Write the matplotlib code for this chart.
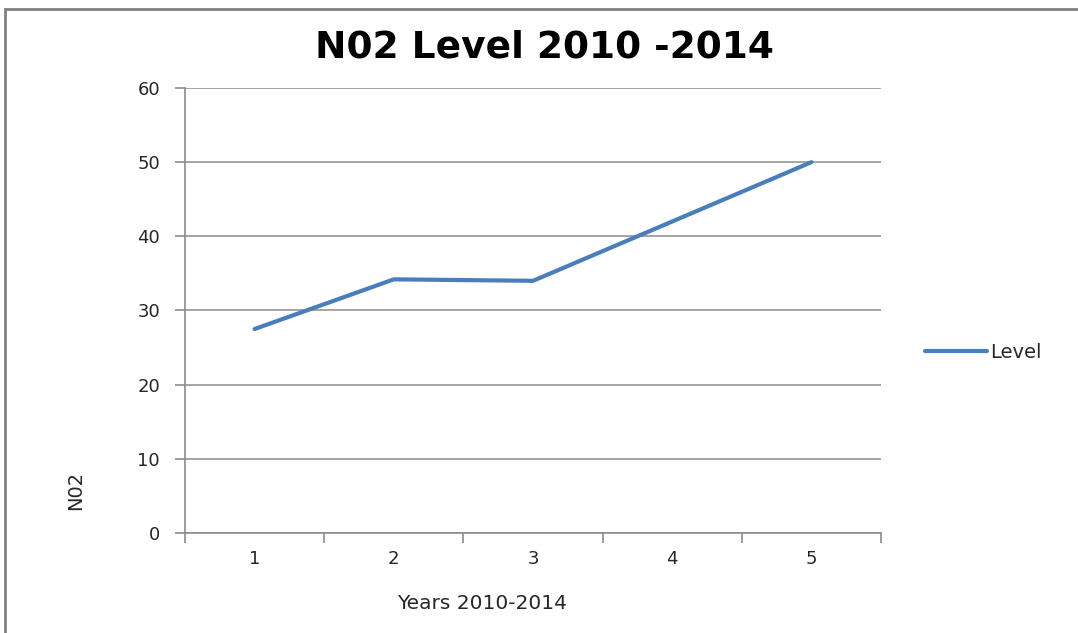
import matplotlib.pyplot as plt
from matplotlib.patches import Rectangle

# data
years = ['1', '2', '3', '4', '5']
level = [27.5, 34.2, 34.0, 42.0, 50.0]
y_ticks = [0, 10, 20, 30, 40, 50, 60]

grey = '#8c8c8c'
blue = '#4a7ebb'
txt = '#262626'

fig = plt.figure(figsize=(10.78, 6.33), dpi=100)
ax = fig.add_axes([0.1716, 0.158, 0.6457, 0.703])

x = [i + 0.5 for i in range(len(years))]
ax.plot(x, level, color=blue, lw=3, label='Level', solid_capstyle='round')

ax.set_xlim(0, len(years))
ax.set_ylim(0, 60)
ax.set_yticks(y_ticks)
ax.set_xticks(range(len(years) + 1))
ax.set_xticklabels([])
ax.set_xticks(x, minor=True)
ax.set_xticklabels(years, minor=True)
ax.tick_params(axis='x', which='minor', length=0, pad=12, labelsize=13, labelcolor=txt)
ax.tick_params(axis='x', which='major', length=7, color=grey, width=1.2)
ax.tick_params(axis='y', length=7, color=grey, width=1.2, labelsize=13, pad=11,
               labelcolor=txt)
ax.grid(axis='y', color=grey, lw=1.1)
ax.set_axisbelow(True)
for s in ['top', 'right']:
    ax.spines[s].set_visible(False)
for s in ['left', 'bottom']:
    ax.spines[s].set_color(grey)
    ax.spines[s].set_linewidth(1.2)

# axis titles sit off-centre like in the original
fig.text(0.447, 0.047, 'Years 2010-2014', fontsize=14.5, color=txt,
         ha='center', va='center')
fig.text(0.07, 0.225, 'N02', rotation=90, fontsize=14, color=txt,
         ha='center', va='center')
fig.text(0.505, 0.925, 'N02 Level 2010 -2014', fontsize=27, fontweight='bold',
         ha='center', va='center')

ax.legend(loc='center left', bbox_to_anchor=(1.038, 0.405), frameon=False,
          fontsize=14, handlelength=3.2, handletextpad=0.15, labelcolor=txt)

fig.patches.append(Rectangle((0.005, -0.05), 1.1, 1.035, transform=fig.transFigure,
                             fill=False, edgecolor='#808080', lw=2))

fig.savefig('out.png')
